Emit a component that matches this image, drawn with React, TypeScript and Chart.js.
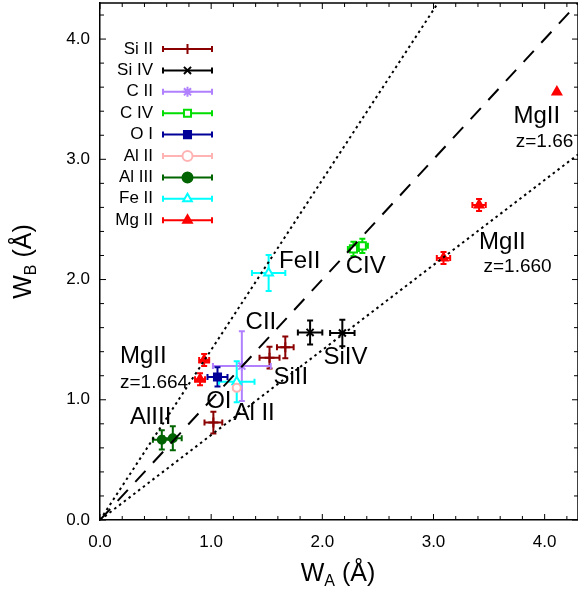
import React, { useEffect, useRef } from "react";
import { Chart, registerables } from "chart.js";
import * as helpers from "chart.js/helpers";

Chart.register(...registerables);

const FONT = "'Liberation Sans', Arial, sans-serif";

// Species (legend order)
const speciesNames = ["Si II", "Si IV", "C II", "C IV", "O I", "Al II", "Al III", "Fe II", "Mg II"];
const speciesColors = ["#8B0000", "#000000", "#B080FF", "#00DD00", "#000099", "#FFB3B3", "#006400", "#00FFFF", "#FF0000"];
const speciesStyles = ["cross", "crossRot", "star", "rect", "rect", "circle", "circle", "triangle", "triangle"];
const speciesFilled = [false, false, false, false, true, false, true, false, true];

// Measured equivalent widths (Å): W_A, W_B and their errors
const siII_A = [1.525, 1.667, 1.02];
const siII_B = [1.35, 1.436, 0.81];
const siII_eA = [0.09, 0.075, 0.08];
const siII_eB = [0.09, 0.09, 0.09];

const siIV_A = [1.89, 2.18];
const siIV_B = [1.56, 1.555];
const siIV_eA = [0.11, 0.11];
const siIV_eB = [0.1, 0.11];

const cII_A = [1.276];
const cII_B = [1.28];
const cII_eA = [0.26];
const cII_eB = [0.29];

const cIV_A = [2.28, 2.36];
const cIV_B = [2.255, 2.28];
const cIV_eA = [0.05, 0.05];
const cIV_eB = [0.06, 0.06];

const oI_A = [1.057];
const oI_B = [1.19];
const oI_eA = [0.09];
const oI_eB = [0.08];

const alII_A = [1.23];
const alII_B = [1.1];
const alII_eA = [0.03];
const alII_eB = [0.03];

const alIII_A = [0.556, 0.655];
const alIII_B = [0.667, 0.68];
const alIII_eA = [0.08, 0.08];
const alIII_eB = [0.08, 0.1];

const feII_A = [1.517, 1.23];
const feII_B = [2.055, 1.15];
const feII_eA = [0.15, 0.16];
const feII_eB = [0.15, 0.17];

const mgII_A = [4.11, 3.41, 3.09, 0.937, 0.9];
const mgII_B = [3.56, 2.62, 2.18, 1.33, 1.17];
const mgII_eA = [0, 0.06, 0.06, 0.045, 0.045];
const mgII_eB = [0, 0.05, 0.05, 0.05, 0.05];

const seriesA = [siII_A, siIV_A, cII_A, cIV_A, oI_A, alII_A, alIII_A, feII_A, mgII_A];
const seriesB = [siII_B, siIV_B, cII_B, cIV_B, oI_B, alII_B, alIII_B, feII_B, mgII_B];
const seriesEA = [siII_eA, siIV_eA, cII_eA, cIV_eA, oI_eA, alII_eA, alIII_eA, feII_eA, mgII_eA];
const seriesEB = [siII_eB, siIV_eB, cII_eB, cIV_eB, oI_eB, alII_eB, alIII_eB, feII_eB, mgII_eB];

// Reference lines: W_B = W_A (dashed), W_B = sqrt2 W_A and W_B = W_A/sqrt2 (dotted)
const refEqualA = [0, 4.3];
const refEqualB = [0, 4.3];
const refUpperA = [0, 3.04];
const refUpperB = [0, 4.3];
const refLowerA = [0, 4.3];
const refLowerB = [0, 3.04];

// Axis
const axisMin = 0;
const axisMax = 4.3;
const majorStep = 1;
const minorStep = 0.2;

// In-plot annotations (data coordinates of the text's left/middle)
const annoText = ["FeII", "CIV", "CII", "SiIV", "SiII", "MgII", "z=1.664", "OI", "Al II", "AlIII", "MgII", "z=1.66", "MgII", "z=1.660"];
const annoA = [1.61, 2.21, 1.31, 2.01, 1.56, 0.18, 0.18, 0.955, 1.2, 0.27, 3.72, 3.74, 3.41, 3.45];
const annoB = [2.15, 2.11, 1.64, 1.35, 1.19, 1.36, 1.14, 0.985, 0.89, 0.85, 3.36, 3.15, 2.31, 2.11];
const annoSize = [24, 24, 24, 24, 24, 24, 19, 24, 24, 24, 24, 19, 24, 19];

const errorBarPlugin = {
  id: "errorBars",
  beforeDatasetsDraw(chart: any) {
    const ctx = chart.ctx;
    const xs = chart.scales.x;
    const ys = chart.scales.y;
    const cap = 3;
    ctx.save();
    chart.data.datasets.forEach((ds: any) => {
      if (!ds.errA) return;
      ctx.strokeStyle = ds.borderColor;
      ctx.lineWidth = 2;
      ds.data.forEach((p: any, i: number) => {
        const ea = ds.errA[i];
        const eb = ds.errB[i];
        const cx = xs.getPixelForValue(p.x);
        const cy = ys.getPixelForValue(p.y);
        ctx.beginPath();
        if (ea > 0) {
          const x1 = xs.getPixelForValue(p.x - ea);
          const x2 = xs.getPixelForValue(p.x + ea);
          ctx.moveTo(x1, cy);
          ctx.lineTo(x2, cy);
          ctx.moveTo(x1, cy - cap);
          ctx.lineTo(x1, cy + cap);
          ctx.moveTo(x2, cy - cap);
          ctx.lineTo(x2, cy + cap);
        }
        if (eb > 0) {
          const y1 = ys.getPixelForValue(p.y - eb);
          const y2 = ys.getPixelForValue(p.y + eb);
          ctx.moveTo(cx, y1);
          ctx.lineTo(cx, y2);
          ctx.moveTo(cx - cap, y1);
          ctx.lineTo(cx + cap, y1);
          ctx.moveTo(cx - cap, y2);
          ctx.lineTo(cx + cap, y2);
        }
        ctx.stroke();
      });
    });
    ctx.restore();
  },
};

const frameTicksPlugin = {
  id: "frameTicks",
  afterDraw(chart: any) {
    const ctx = chart.ctx;
    const a = chart.chartArea;
    const xs = chart.scales.x;
    const ys = chart.scales.y;
    ctx.save();
    ctx.strokeStyle = "#000";
    ctx.lineWidth = 1.5;
    ctx.beginPath();
    ctx.moveTo(a.left, a.top);
    ctx.lineTo(a.right, a.top);
    ctx.lineTo(a.right, a.bottom);
    ctx.stroke();
    ctx.lineWidth = 1;
    const n = Math.round((axisMax - axisMin) / minorStep);
    ctx.beginPath();
    for (let i = 0; i <= n; i++) {
      const v = axisMin + i * minorStep;
      const major = Math.abs(v / majorStep - Math.round(v / majorStep)) < 1e-6;
      const len = major ? 6 : 4;
      const px = xs.getPixelForValue(v);
      const py = ys.getPixelForValue(v);
      ctx.moveTo(px, a.bottom);
      ctx.lineTo(px, a.bottom - len);
      ctx.moveTo(px, a.top);
      ctx.lineTo(px, a.top + len);
      ctx.moveTo(a.left, py);
      ctx.lineTo(a.left + len, py);
      ctx.moveTo(a.right, py);
      ctx.lineTo(a.right - len, py);
    }
    ctx.stroke();
    ctx.restore();
  },
};

const textPlugin = {
  id: "texts",
  afterDatasetsDraw(chart: any) {
    const ctx = chart.ctx;
    const a = chart.chartArea;
    const xs = chart.scales.x;
    const ys = chart.scales.y;
    ctx.save();
    ctx.fillStyle = "#000";
    ctx.textBaseline = "middle";
    ctx.textAlign = "left";
    annoText.forEach((t, i) => {
      ctx.font = `${annoSize[i]}px ${FONT}`;
      ctx.fillText(t, xs.getPixelForValue(annoA[i]), ys.getPixelForValue(annoB[i]));
    });

    // Legend
    const textRight = a.left + 53;
    const lineL = a.left + 63;
    const lineR = a.left + 112;
    const mid = (lineL + lineR) / 2;
    const rowTop = a.top + 46;
    const rowStep = 21.4;
    speciesNames.forEach((name, i) => {
      const y = rowTop + i * rowStep;
      ctx.font = `17px ${FONT}`;
      ctx.textAlign = "right";
      ctx.fillStyle = "#000";
      ctx.fillText(name, textRight, y);
      ctx.strokeStyle = speciesColors[i];
      ctx.lineWidth = 2;
      ctx.beginPath();
      ctx.moveTo(lineL, y);
      ctx.lineTo(lineR, y);
      ctx.moveTo(lineL, y - 3);
      ctx.lineTo(lineL, y + 3);
      ctx.moveTo(lineR, y - 3);
      ctx.lineTo(lineR, y + 3);
      ctx.stroke();
      ctx.fillStyle = speciesFilled[i] ? speciesColors[i] : "#fff";
      ctx.strokeStyle = speciesColors[i];
      ctx.lineWidth = 2;
      helpers.drawPoint(ctx, { pointStyle: speciesStyles[i], radius: 5, borderWidth: 2, rotation: 0 } as any, mid, y);
    });
    ctx.restore();
  },
  afterDraw(chart: any) {
    const ctx = chart.ctx;
    const a = chart.chartArea;
    ctx.save();
    ctx.fillStyle = "#000";
    ctx.textBaseline = "alphabetic";
    const big = `25px ${FONT}`;
    const small = `16px ${FONT}`;
    const draw = (sub: string, cx: number, cy: number, rotate: boolean) => {
      ctx.save();
      ctx.translate(cx, cy);
      if (rotate) ctx.rotate(-Math.PI / 2);
      ctx.font = big;
      const wW = ctx.measureText("W").width;
      const wRest = ctx.measureText(" (Å)").width;
      ctx.font = small;
      const wSub = ctx.measureText(sub).width;
      const total = wW + wSub + wRest;
      let x = -total / 2;
      ctx.textAlign = "left";
      ctx.font = big;
      ctx.fillText("W", x, 9);
      x += wW;
      ctx.font = small;
      ctx.fillText(sub, x, 14);
      x += wSub;
      ctx.font = big;
      ctx.fillText(" (Å)", x, 9);
      ctx.restore();
    };
    draw("A", 338, 572, false);
    draw("B", 22, (a.top + a.bottom) / 2, true);
    ctx.restore();
  },
};

export default function App() {
  const ref = useRef<HTMLCanvasElement | null>(null);
  useEffect(() => {
    document.body.style.margin = "0";
    if (!ref.current) return;
    const scatterSets = speciesNames.map((name, i) => ({
      type: "scatter" as const,
      label: name,
      data: seriesA[i].map((v, j) => ({ x: v, y: seriesB[i][j] })),
      errA: seriesEA[i],
      errB: seriesEB[i],
      borderColor: speciesColors[i],
      backgroundColor: speciesFilled[i] ? speciesColors[i] : "#ffffff",
      pointStyle: speciesStyles[i],
      pointRadius: speciesStyles[i] === "circle" ? 4 : 5,
      pointBorderWidth: 2,
    }));
    const mkLine = (xa: number[], yb: number[], dash: number[]) => ({
      type: "line" as const,
      label: "",
      data: xa.map((v, j) => ({ x: v, y: yb[j] })),
      borderColor: "#000",
      borderWidth: 2,
      borderDash: dash,
      pointRadius: 0,
      fill: false,
    });
    const chart = new Chart(ref.current, {
      type: "scatter",
      data: {
        datasets: [
          mkLine(refEqualA, refEqualB, [15, 11]),
          mkLine(refUpperA, refUpperB, [2.5, 3.5]),
          mkLine(refLowerA, refLowerB, [2.5, 3.5]),
          ...scatterSets,
        ] as any,
      },
      options: {
        responsive: false,
        animation: false,
        layout: { autoPadding: false, padding: { top: 3, right: 0, left: 0, bottom: 0 } },
        plugins: { legend: { display: false }, tooltip: { enabled: false } },
        scales: {
          x: {
            type: "linear",
            min: axisMin,
            max: axisMax,
            afterFit: (s: any) => {
              s.height = 70;
              s.paddingLeft = 0;
              s.paddingRight = 0;
            },
            grid: { drawOnChartArea: false, drawTicks: false },
            border: { color: "#000", width: 1.5 },
            ticks: {
              stepSize: majorStep,
              includeBounds: false,
              padding: 12,
              color: "#000",
              maxRotation: 0,
              autoSkip: false,
              font: { family: FONT, size: 17 },
              callback: (v: any) => Number(v).toFixed(1),
            },
          },
          y: {
            type: "linear",
            min: axisMin,
            max: axisMax,
            afterFit: (s: any) => {
              s.width = 100;
              s.paddingTop = 0;
              s.paddingBottom = 0;
            },
            grid: { drawOnChartArea: false, drawTicks: false },
            border: { color: "#000", width: 1.5 },
            ticks: {
              stepSize: majorStep,
              includeBounds: false,
              padding: 10,
              color: "#000",
              autoSkip: false,
              font: { family: FONT, size: 17 },
              callback: (v: any) => Number(v).toFixed(1),
            },
          },
        },
      } as any,
      plugins: [errorBarPlugin, frameTicksPlugin, textPlugin],
    });
    return () => chart.destroy();
  }, []);
  return (
    <div style={{ width: 578, height: 590, background: "#fff" }}>
      <canvas ref={ref} width={578} height={590} style={{ display: "block" }} />
    </div>
  );
}
